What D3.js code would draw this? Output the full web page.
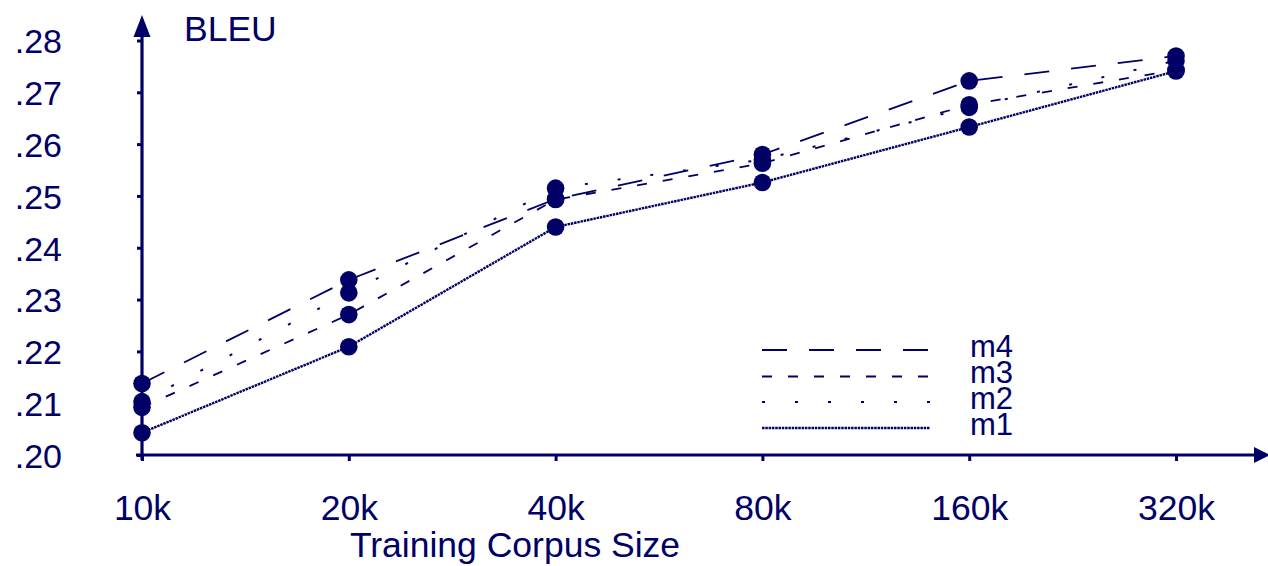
<!DOCTYPE html>
<html>
<head>
<meta charset="utf-8">
<script src="https://cdn.jsdelivr.net/npm/d3@7"></script>
<style>
  body { margin: 0; background: #fff; }
  text { font-family: "Liberation Sans", Arial, sans-serif; fill: #000066; }
</style>
</head>
<body>
<div id="chart"></div>
<script>
// corpus sizes on the x axis
var sizes = ["10k", "20k", "40k", "80k", "160k", "320k"]
var yTicks = [0.20, 0.21, 0.22, 0.23, 0.24, 0.25, 0.26, 0.27, 0.28]

// BLEU values
var m1 = [0.2043, 0.2209, 0.2440, 0.2526, 0.2633, 0.2741]
var m2 = [0.2103, 0.2313, 0.2515, 0.2570, 0.2671, 0.2761]
var m3 = [0.2092, 0.2271, 0.2493, 0.2563, 0.2676, 0.2743]
var m4 = [0.2138, 0.2338, 0.2494, 0.2580, 0.2722, 0.2770]

var seriesNames = ["m4", "m3", "m2", "m1"]
var seriesValues = [m4, m3, m2, m1]
var dashes = ["25,22", "10,16", "3,30", "2.5,0.8"]
var widths = [1.8, 1.8, 2, 2.4]

var width = 1268
var height = 566
var color = "#000066"

var svg = d3.select("#chart").append("svg")
    .attr("width", width)
    .attr("height", height)

var x = d3.scalePoint()
    .domain(sizes)
    .range([142, 1176])
var y = d3.scaleLinear()
    .domain([0.20, 0.28])
    .range([455, 40.5])

// y axis
var yAxis = svg.append("g")
    .attr("transform", "translate(142,0)")
    .call(d3.axisLeft(y).tickValues(yTicks).tickSize(5).tickPadding(75)
        .tickFormat(d => d3.format(".2f")(d).replace(/^0/, "")))
yAxis.select(".domain").remove()
yAxis.selectAll("line").attr("stroke", color).attr("stroke-width", 3)
yAxis.selectAll("text")
    .attr("fill", color)
    .style("font-size", "34px")
    .attr("dy", "0.36em")

// x axis
var xAxis = svg.append("g")
    .attr("transform", "translate(0,455)")
    .call(d3.axisBottom(x).tickSize(6).tickPadding(34))
xAxis.select(".domain").remove()
xAxis.selectAll("line").attr("stroke", color).attr("stroke-width", 3)
xAxis.selectAll("text")
    .attr("fill", color)
    .style("font-size", "35.5px")
    .attr("dy", "0.71em")

// axis lines with arrows
svg.append("line")
    .attr("x1", 142).attr("x2", 142)
    .attr("y1", 460).attr("y2", 30)
    .attr("stroke", color).attr("stroke-width", 3.2)
svg.append("path")
    .attr("d", "M142,15 L133.5,37 L150.5,37 Z")
    .attr("fill", color)
svg.append("line")
    .attr("x1", 136).attr("x2", 1256)
    .attr("y1", 455).attr("y2", 455)
    .attr("stroke", color).attr("stroke-width", 3.2)
svg.append("path")
    .attr("d", "M1270,455 L1254,447 L1254,463 Z")
    .attr("fill", color)

svg.append("text")
    .attr("x", 184)
    .attr("y", 41)
    .style("font-size", "35.5px")
    .text("BLEU")

svg.append("text")
    .attr("x", 515)
    .attr("y", 557)
    .attr("text-anchor", "middle")
    .style("font-size", "35.5px")
    .text("Training Corpus Size")

// series lines
var line = d3.line()
    .x((d, i) => x(sizes[i]))
    .y(d => y(d))

seriesValues.forEach(function(vals, k) {
    svg.append("path")
        .datum(vals)
        .attr("d", line)
        .attr("fill", "none")
        .attr("stroke", color)
        .attr("stroke-width", widths[k])
        .attr("stroke-dasharray", dashes[k])
})

seriesValues.forEach(function(vals) {
    svg.selectAll(null)
        .data(vals)
        .enter()
        .append("circle")
        .attr("cx", (d, i) => x(sizes[i]))
        .attr("cy", d => y(d))
        .attr("r", 8.8)
        .attr("fill", color)
})

// legend
var legendY = [350, 376.5, 402, 428]
seriesNames.forEach(function(name, k) {
    svg.append("line")
        .attr("x1", 762).attr("x2", 930)
        .attr("y1", legendY[k]).attr("y2", legendY[k])
        .attr("stroke", color)
        .attr("stroke-width", widths[k])
        .attr("stroke-dasharray", dashes[k])
    svg.append("text")
        .attr("x", 970)
        .attr("y", legendY[k] + 6.5)
        .style("font-size", "31px")
        .text(name)
})
</script>
</body>
</html>
